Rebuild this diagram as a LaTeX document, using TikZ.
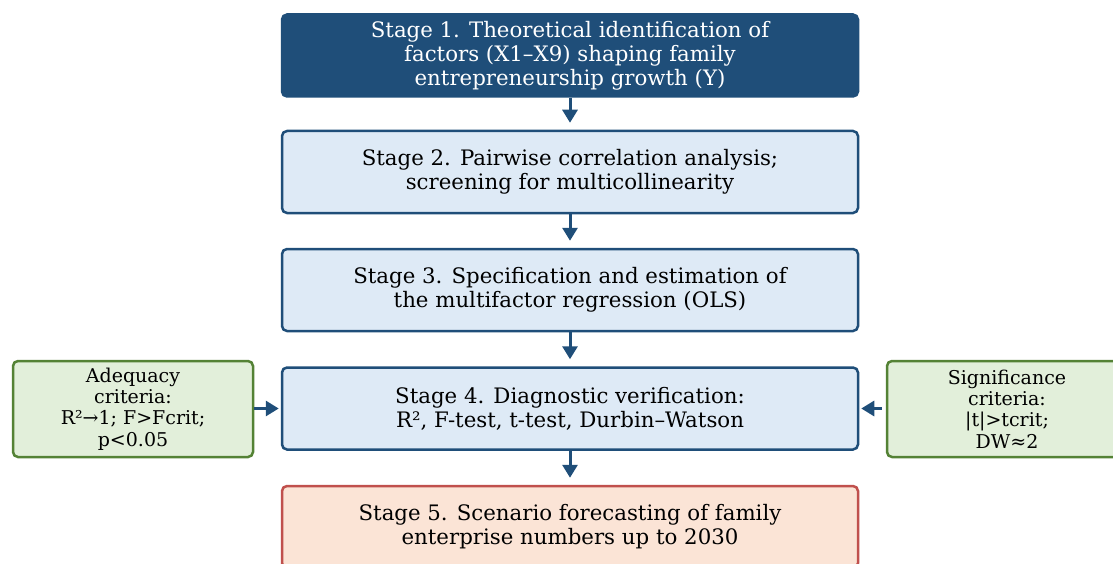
\documentclass[tikz,border=0pt]{standalone}
\usepackage{fontspec}
\setmainfont{DejaVu Serif}
\usetikzlibrary{arrows.meta}
\definecolor{darkblue}{HTML}{1F4E79}
\definecolor{lightblue}{HTML}{DEEAF6}
\definecolor{lightgreen}{HTML}{E2EFDA}
\definecolor{darkgreen}{HTML}{548235}
\definecolor{lightred}{HTML}{FBE4D6}
\definecolor{darkred}{HTML}{C0504D}
\tikzset{
  stagebox/.style={draw=darkblue, fill=lightblue, line width=2.5pt, rounded corners=5pt,
    minimum width=576pt, minimum height=82pt, align=center, inner sep=0pt,
    font=\fontsize{21.3}{23.8}\selectfont},
  topbox/.style={stagebox, fill=darkblue, text=white},
  finalbox/.style={stagebox, draw=darkred, fill=lightred},
  critbox/.style={draw=darkgreen, fill=lightgreen, line width=2.5pt, rounded corners=5pt,
    minimum width=240pt, minimum height=96pt, align=center, inner sep=0pt,
    font=\fontsize{19}{21.3}\selectfont},
  flow/.style={draw=darkblue, line width=3pt, -{Triangle[width=15pt,length=13pt]}}
}
\begin{document}
\begin{tikzpicture}[x=1pt,y=-1pt]
\clip (0,0) rectangle (1113,564);
\useasboundingbox (0,0) rectangle (1113,564);
\node[topbox] (s1) at (570,55.5) {Stage 1. Theoretical identification of\\factors (X1–X9) shaping family\\entrepreneurship growth (Y)};
\node[stagebox] (s2) at (570,172) {Stage 2. Pairwise correlation analysis;\\screening for multicollinearity};
\node[stagebox] (s3) at (570,290) {Stage 3. Specification and estimation of\\the multifactor regression (OLS)};
\node[stagebox] (s4) at (570,408.5) {Stage 4. Diagnostic verification:\\R², F-test, t-test, Durbin–Watson};
\node[finalbox] (s5) at (570,527) {Stage 5. Scenario forecasting of family\\enterprise numbers up to 2030};
\node[critbox] (ad) at (133,409) {Adequacy\\criteria:\\R²→1; F>Fcrit;\\p<0.05};
\node[critbox] (sg) at (1007,409) {Significance\\criteria:\\|t|>tcrit;\\DW≈2};
\draw[flow, shorten >=7pt] (s1) -- (s2);
\draw[flow, shorten >=7pt] (s2) -- (s3);
\draw[flow, shorten >=7pt] (s3) -- (s4);
\draw[flow, shorten >=7pt] (s4) -- (s5);
\draw[flow, shorten >=2pt] (ad.east |- s4.west) -- (s4.west);
\draw[flow, shorten >=2pt, shorten <=4pt] (sg.west |- s4.east) -- (s4.east);
\end{tikzpicture}
\end{document}
